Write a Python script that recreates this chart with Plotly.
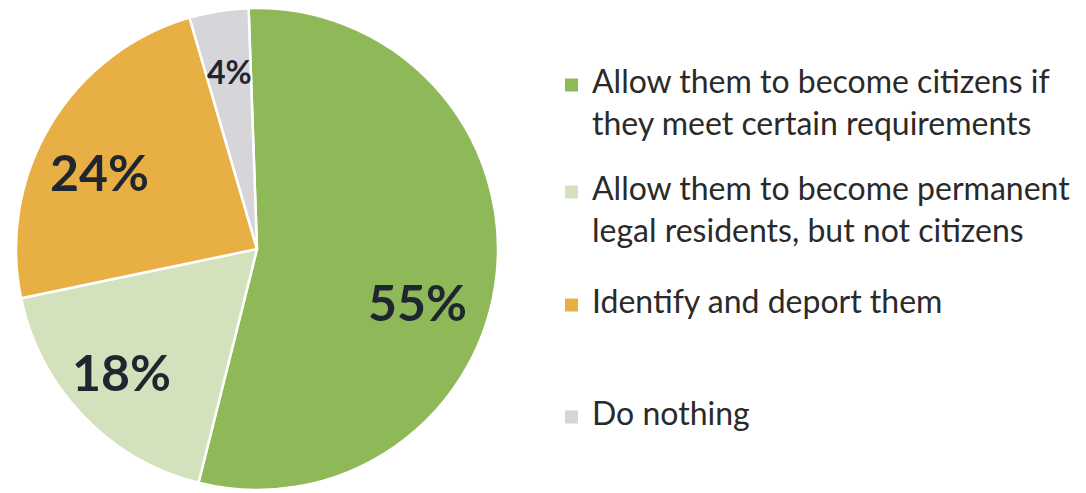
import numpy as np
import plotly.graph_objects as go

labels = [
    "Allow them to become citizens if<br>they meet certain requirements",
    "Allow them to become permanent<br>legal residents, but not citizens",
    "Identify and deport them",
    "Do nothing",
]
values = [55, 18, 24, 4]
value_text = ["55%", "18%", "24%", "4%"]
colors = ["#8FB858", "#D3E1BD", "#E8AF44", "#D6D6DA"]

# --- styling / layout (not data) ---
W, H = 1086, 493
CX, CY, R = 257, 249, 241          # pie centre / radius in pixels
ROT = -2                           # start angle (deg, clockwise from 12 o'clock)
label_sizes = [50, 50, 50, 32]
label_angle_frac = [0.563, 0.525, 0.444, 0.52]   # where in the slice the label sits
label_radius_frac = [0.70, 0.758, 0.728, 0.747]
legend_baselines = [93, 200, 313, 425]            # px of first text line
LEG_FONT = 32
MARK = 13

fig = go.Figure()
fig.add_trace(go.Pie(
    labels=[l.replace("<br>", " ") for l in labels],
    values=values,
    textinfo="none",
    sort=False,
    direction="clockwise",
    rotation=ROT,
    marker=dict(colors=colors, line=dict(color="white", width=2.5)),
    domain=dict(x=[(CX - R) / W, (CX + R) / W], y=[(H - CY - R) / H, (H - CY + R) / H]),
    hoverinfo="skip",
    showlegend=False,
))

annotations = []
shapes = []
vals = np.array(values, dtype=float)
ang = vals / vals.sum() * 360.0
starts = ROT + np.concatenate([[0], np.cumsum(ang)[:-1]])
for i, t in enumerate(value_text):
    theta = np.deg2rad(starts[i] + ang[i] * label_angle_frac[i])
    r = R * label_radius_frac[i]
    px = CX + r * np.sin(theta)
    py = CY - r * np.cos(theta)
    annotations.append(dict(
        x=px / W, y=1 - py / H, xref="paper", yref="paper",
        text=t, showarrow=False, xanchor="center", yanchor="middle",
        font=dict(family="Lato", size=label_sizes[i], color="#1F2630", weight="bold"),
    ))

for i, lab in enumerate(labels):
    base = legend_baselines[i]
    annotations.append(dict(
        x=590 / W, y=1 - (base - 34) / H, xref="paper", yref="paper",
        text=lab, showarrow=False, xanchor="left", yanchor="top", align="left",
        font=dict(family="Lato", size=LEG_FONT, color="#2A2A2A"),
    ))
    cy = base - 8
    shapes.append(dict(
        type="rect", xref="paper", yref="paper",
        x0=565 / W, x1=(565 + MARK) / W,
        y0=1 - (cy + MARK / 2) / H, y1=1 - (cy - MARK / 2) / H,
        fillcolor=colors[i], line=dict(width=0),
    ))

fig.update_layout(
    width=W, height=H,
    margin=dict(l=0, r=0, t=0, b=0),
    paper_bgcolor="white",
    plot_bgcolor="white",
    showlegend=False,
    annotations=annotations,
    shapes=shapes,
)

fig.write_html("out.html")
